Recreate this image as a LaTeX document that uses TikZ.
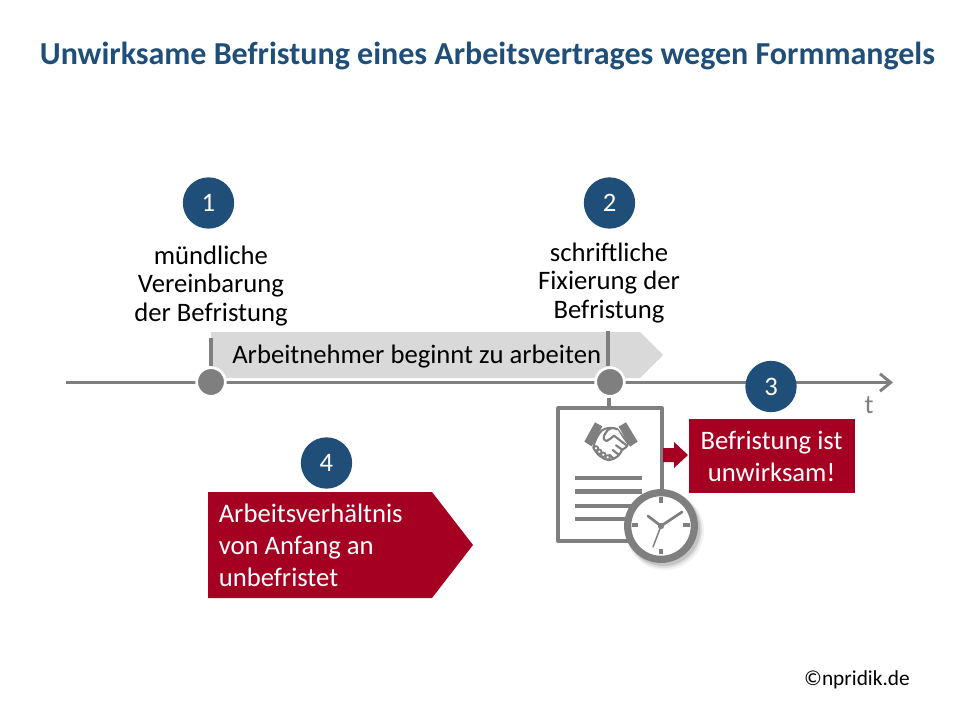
\documentclass[tikz,border=0pt]{standalone}
\usepackage{fontspec}
\setmainfont{Carlito}
\usetikzlibrary{arrows.meta}
\definecolor{navy}{HTML}{1F4E79}
\definecolor{wine}{HTML}{A50021}
\definecolor{midgray}{HTML}{7F7F7F}
\definecolor{lightgray}{HTML}{D9D9D9}
\tikzset{
  badge/.style={circle,fill=navy,text=white,minimum size=38.5pt,inner sep=0pt,font=\fontsize{20}{20}\selectfont},
  dot/.style={circle,fill=midgray,draw=white,line width=2pt,minimum size=21.5pt,inner sep=0pt},
  label/.style={align=center,text=black,inner sep=0pt,font=\fontsize{20}{21.6}\selectfont},
  redtext/.style={text=white,inner sep=0pt,font=\fontsize{20}{24}\selectfont},
  axisline/.style={draw=midgray,line width=2.2pt},
  docline/.style={draw=midgray,line width=3.6pt},
}
\begin{document}
\begin{tikzpicture}[x=0.75pt,y=-0.75pt]
\useasboundingbox (0,0) rectangle (960,720);
\node[font=\bfseries\fontsize{24}{28}\selectfont,text=navy,inner sep=0pt] (title) at (487.5,55.5) {Unwirksame Befristung eines Arbeitsvertrages wegen Formmangels};

% grey arrow
\fill[lightgray] (211,332) -- (640,332) -- (663,355) -- (640,378) -- (211,378) -- cycle;
\node[label,anchor=west] (work) at (232,356.5) {Arbeitnehmer beginnt zu arbeiten};

% timeline
\coordinate (tstart) at (66,382.5);
\coordinate (tend) at (893,382.5);
\draw[axisline,-{Straight Barb[length=8pt,width=13pt,line width=2.2pt]}] (tstart) -- (tend);
\node[text=midgray,inner sep=0pt,font=\fontsize{20}{20}\selectfont] (t) at (869,405) {t};

% ticks
\coordinate (tickA) at (211,338);
\coordinate (tickB) at (608,331);
\coordinate (docTop) at (608.5,408);
\node[dot] (p1) at (211,382) {};
\node[dot] (p2) at (610,382) {};
\draw[axisline,line width=3pt] (tickA) -- (p1.north -| tickA);
\draw[axisline,line width=3pt] (tickB) -- (p2.north -| tickB);
\draw[axisline,line width=3pt] (p2.south -| docTop) -- (docTop);

% badges and labels
\node[badge] (b1) at (208.5,203) {1};
\node[badge] (b2) at (609.5,203) {2};
\node[badge] (b3) at (771,386.5) {3};
\node[badge] (b4) at (326.5,463) {4};
\node[label] (l1) at (211,286) {mündliche\\Vereinbarung\\der Befristung};
\node[label] (l2) at (609,283) {schriftliche\\Fixierung der\\Befristung};

% document
\draw[midgray,line width=2.4pt,line join=round] (558,408) rectangle (662,541);
\draw[docline] (575,478) -- (642,478);
\draw[docline] (575,491.5) -- (642,491.5);
\draw[docline] (575,506) -- (642,506);
\draw[docline] (575,519) -- (642,519);

% handshake, in 3x zoom coordinates
\begin{scope}[shift={(540,340)},x=0.25pt,y=-0.25pt]
\fill[midgray] (165,247) -- (133,305) -- (155,319) -- (187,259) -- cycle;
\fill[midgray] (258,247) -- (293,305) -- (270,320) -- (236,260) -- cycle;
\draw[midgray,line width=1.6pt,line cap=round,line join=round,fill=white]
  (186,271) .. controls (200,262) and (215,262) .. (232,268)
  -- (264,310) .. controls (262,322) and (252,326) .. (246,330)
  .. controls (240,345) and (228,358) .. (205,360)
  .. controls (190,358) and (170,345) .. (160,322)
  .. controls (165,300) and (172,285) .. (186,271) -- cycle;
\draw[midgray,line width=1.6pt,line cap=round,line join=round,fill=white]
  (232,268) .. controls (220,262) and (205,262) .. (196,280)
  .. controls (188,292) and (190,300) .. (200,303)
  .. controls (208,300) and (215,292) .. (222,287)
  -- (262,318);
\draw[midgray,line width=1.6pt,line cap=round] (248,330) -- (228,316);
\draw[midgray,line width=1.6pt,line cap=round] (236,344) -- (218,330);
\draw[midgray,line width=1.6pt,line cap=round] (220,355) -- (208,344);
\foreach \cx/\cy in {168/325,178/335,190/344,203/352}
  \draw[midgray,line width=1.3pt,fill=white] (\cx,\cy) circle (6.5);
\end{scope}

% clock
\fill[black,opacity=.05] (665,531) circle (39);
\fill[black,opacity=.08] (664,530) circle (38);
\fill[black,opacity=.12] (663.5,529) circle (37);
\node[circle,draw=midgray,fill=white,line width=5.4pt,minimum size=50pt,inner sep=0pt] (clock) at (661,526) {};
\draw[midgray,line width=3pt] (661,497) -- (661,503);
\draw[midgray,line width=3pt] (661,549) -- (661,554);
\draw[midgray,line width=3pt] (632,525) -- (638,525);
\draw[midgray,line width=3pt] (683,525) -- (690,525);
\coordinate (handA) at (682,512);
\coordinate (handB) at (648,516);
\coordinate (handC) at (653,547);
\draw[midgray,line width=2pt,line cap=round] (clock.center) -- (handA);
\draw[midgray,line width=2pt,line cap=round] (clock.center) -- (handB);
\draw[midgray,line width=1.1pt,line cap=round] (clock.center) -- (handC);
\fill[midgray] (clock.center) circle (3.2);

% small red arrow
\fill[wine] (663,448) -- (674,448) -- (674,442) -- (688,455) -- (674,468) -- (674,462) -- (663,462) -- cycle;

% red box
\fill[wine] (689,419) rectangle (855,493);
\node[redtext,align=center] (res) at (771.5,456.5) {Befristung ist\\unwirksam!};

% red pentagon
\fill[wine] (208,492) -- (432,492) -- (473,545) -- (432,598) -- (208,598) -- cycle;
\node[redtext,align=left,anchor=west] (ans) at (218.5,545) {Arbeitsverhältnis\\von Anfang an\\unbefristet};

\node[inner sep=0pt,font=\fontsize{16}{16}\selectfont] (copy) at (857,680) {©npridik.de};
\end{tikzpicture}
\end{document}
